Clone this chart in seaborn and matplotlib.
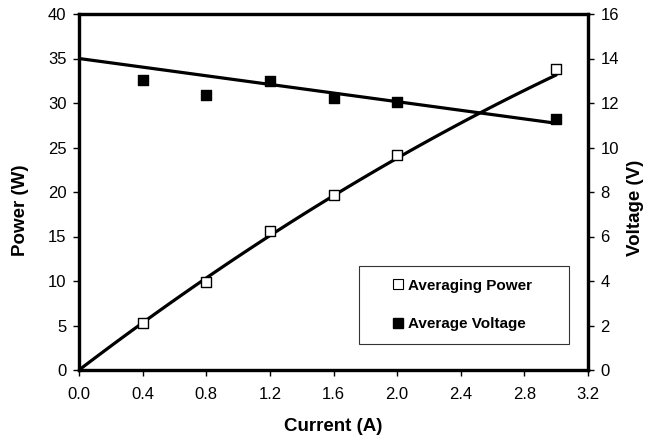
import numpy as np
import pandas as pd
import matplotlib
matplotlib.use("Agg")
import matplotlib.pyplot as plt
from matplotlib.lines import Line2D
import seaborn as sns

# ---- data ----
current = [0.4, 0.8, 1.2, 1.6, 2.0, 3.0]
power = [5.25, 9.92, 15.6, 19.66, 24.15, 33.8]
voltage = [13.03, 12.36, 13.0, 12.24, 12.06, 11.27]
# trendline coefficients (as shown on chart)
power_fit = [13.6, -0.85]      # P = a*I + b*I^2
voltage_fit = [14.0, -0.97]    # V = c + d*I
fit_range = [0.0, 3.0]

x_ticks = [0.0, 0.4, 0.8, 1.2, 1.6, 2.0, 2.4, 2.8, 3.2]
left_ticks = [0, 5, 10, 15, 20, 25, 30, 35, 40]
right_ticks = [0, 2, 4, 6, 8, 10, 12, 14, 16]

sns.set_theme(style="white")
plt.rcParams['font.family'] = ['Liberation Sans', 'DejaVu Sans']
plt.rcParams['text.color'] = 'black'
plt.rcParams['axes.labelcolor'] = 'black'

fig = plt.figure(figsize=(6.48, 4.41), dpi=100)
ax = fig.add_axes([79/648, 1-370/441, 509/648, 356/441])
ax2 = ax.twinx()

xf = np.linspace(fit_range[0], fit_range[1], 100)
df_fit = pd.DataFrame({"I": xf,
                       "P": power_fit[0]*xf + power_fit[1]*xf**2,
                       "V": voltage_fit[0] + voltage_fit[1]*xf})
df = pd.DataFrame({"I": current, "P": power, "V": voltage})

sns.lineplot(data=df_fit, x="I", y="P", ax=ax, color="black", lw=2.3, zorder=2)
sns.lineplot(data=df_fit, x="I", y="V", ax=ax2, color="black", lw=2.3, zorder=2)
sns.scatterplot(data=df, x="I", y="P", ax=ax, marker="s", s=50, color="white",
                edgecolor="black", linewidth=1.0, zorder=3)
sns.scatterplot(data=df, x="I", y="V", ax=ax2, marker="s", s=50, color="black",
                edgecolor="black", linewidth=1.0, zorder=3)

ax.set_xlim(0, 3.2)
ax.set_ylim(0, 40)
ax2.set_ylim(0, 16)
ax.set_xticks(x_ticks)
ax.set_xticklabels([f"{v:.1f}" for v in x_ticks])
ax.set_yticks(left_ticks)
ax2.set_yticks(right_ticks)

fs = 12
lfs = 13.5
ax.set_xlabel("Current (A)", fontsize=lfs, fontweight="bold", color="black")
ax.set_ylabel("Power (W)", fontsize=lfs, fontweight="bold", color="black")
ax2.set_ylabel("Voltage (V)", fontsize=lfs, fontweight="bold", rotation=90, color="black")
ax.xaxis.set_label_coords(0.5, -0.135)
ax.yaxis.set_label_coords(-0.098, 0.45)
ax2.yaxis.set_label_coords(1.077, 0.455)

for a in (ax, ax2):
    for s in a.spines.values():
        s.set_linewidth(2.3)
        s.set_color("black")
    a.tick_params(direction="out", length=4, width=1, colors="black",
                  labelsize=fs, pad=4)
    a.grid(False)
ax.tick_params(axis="y", left=True, pad=5)
ax.tick_params(axis="x", bottom=True, pad=8)
ax2.tick_params(axis="y", right=True, pad=5)

handles = [Line2D([], [], ls="none", marker="s", markersize=7, markerfacecolor="white",
                  markeredgecolor="black", markeredgewidth=0.8),
           Line2D([], [], ls="none", marker="s", markersize=7, markerfacecolor="black",
                  markeredgecolor="black")]
leg = ax.legend(handles, ["Averaging Power", "Average Voltage"],
                loc="lower left", bbox_to_anchor=(0.55, 0.073, 0.413, 0.227),
                mode="expand", frameon=True, fancybox=False,
                handlelength=3.4, handletextpad=-1.05, labelspacing=1.6,
                borderpad=0.85, borderaxespad=0,
                prop={"weight": "bold", "size": 11})
leg.get_frame().set_edgecolor("black")
leg.get_frame().set_linewidth(0.8)
leg.set_zorder(5)
for t in leg.get_texts():
    t.set_color("black")

fig.savefig("out.png", dpi=100)
